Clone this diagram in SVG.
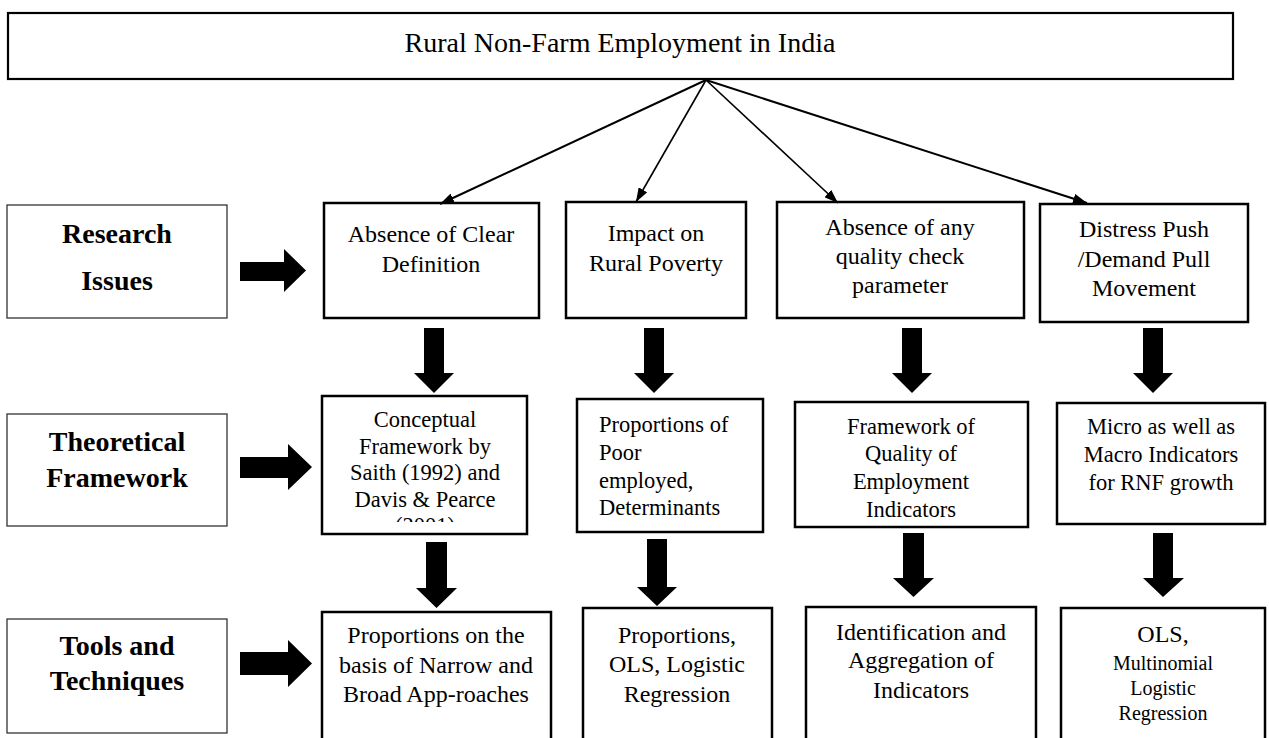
<svg xmlns="http://www.w3.org/2000/svg" width="1269" height="738" viewBox="0 0 1269 738">
  <style>
    .bg { fill: #ffffff; }
    .box { fill: #ffffff; stroke: #000000; stroke-width: 2.5; }
    .label-box { fill: #ffffff; stroke: #333333; stroke-width: 1.3; }
    .title-box { fill: #ffffff; stroke: #000000; stroke-width: 2.2; }
    .t { font-family: "Liberation Serif", "Times New Roman", serif; fill: #000000; text-anchor: middle; }
    .t24 { font-size: 24px; }
    .t22 { font-size: 22.5px; }
    .t20 { font-size: 20px; }
    .title { font-size: 28px; }
    .lbl { font-size: 28px; font-weight: bold; }
    .left { text-anchor: start; }
    .block { fill: #000000; }
    .link { stroke: #000000; stroke-width: 2; fill: none; marker-end: url(#head); }
  </style>
  <defs>
    <marker id="head" viewBox="0 0 14 10" refX="14" refY="5" markerWidth="14" markerHeight="10" markerUnits="userSpaceOnUse" orient="auto">
      <path d="M0,0 L14,5 L0,10 z" fill="#000000"/>
    </marker>
    <clipPath id="clip-b1"><rect x="323" y="397" width="204" height="125"/></clipPath>
    <clipPath id="clip-b3"><rect x="796" y="403" width="231" height="116"/></clipPath>
  </defs>

  <rect class="bg" x="0" y="0" width="1269" height="738"/>

  <!-- Heading -->
  <g id="root">
    <rect class="title-box" x="8" y="13" width="1225" height="66"/>
    <text class="t title" x="620" y="52">Rural Non-Farm Employment in India</text>
  </g>

  <!-- Row labels -->
  <g id="label-research">
    <rect class="label-box" x="7" y="205" width="220" height="113"/>
    <text class="t lbl" x="117" y="243">Research</text>
    <text class="t lbl" x="117" y="290">Issues</text>
  </g>
  <g id="label-theory">
    <rect class="label-box" x="7" y="414" width="220" height="112"/>
    <text class="t lbl" x="117" y="451">Theoretical</text>
    <text class="t lbl" x="117" y="487">Framework</text>
  </g>
  <g id="label-tools">
    <rect class="label-box" x="7" y="619" width="220" height="114"/>
    <text class="t lbl" x="117" y="655">Tools and</text>
    <text class="t lbl" x="117" y="690">Techniques</text>
  </g>

  <!-- Research issues -->
  <g id="issue-definition">
    <rect class="box" x="324" y="203" width="215" height="115"/>
    <text class="t t24" x="431" y="242">Absence of Clear</text>
    <text class="t t24" x="431" y="272">Definition</text>
  </g>
  <g id="issue-poverty">
    <rect class="box" x="566" y="202" width="180" height="116"/>
    <text class="t t24" x="656" y="241">Impact on</text>
    <text class="t t24" x="656" y="271">Rural Poverty</text>
  </g>
  <g id="issue-quality">
    <rect class="box" x="777" y="202" width="247" height="116"/>
    <text class="t t24" x="900" y="235">Absence of any</text>
    <text class="t t24" x="900" y="264">quality check</text>
    <text class="t t24" x="900" y="293">parameter</text>
  </g>
  <g id="issue-movement">
    <rect class="box" x="1040" y="204" width="208" height="118"/>
    <text class="t t24" x="1144" y="237">Distress Push</text>
    <text class="t t24" x="1144" y="267">/Demand Pull</text>
    <text class="t t24" x="1144" y="296">Movement</text>
  </g>

  <!-- Theoretical framework -->
  <g id="theory-concept">
    <rect class="box" x="322" y="396" width="205" height="138"/>
    <g clip-path="url(#clip-b1)">
      <text class="t t22" x="425" y="427">Conceptual</text>
      <text class="t t22" x="425" y="454">Framework by</text>
      <text class="t t22" x="425" y="480">Saith (1992) and</text>
      <text class="t t22" x="425" y="507">Davis &amp; Pearce</text>
      <text class="t t22" x="425" y="533">(2001)</text>
    </g>
  </g>
  <g id="theory-poor">
    <rect class="box" x="577" y="399" width="186" height="133"/>
    <text class="t t22 left" x="599" y="432">Proportions of</text>
    <text class="t t22 left" x="599" y="460">Poor</text>
    <text class="t t22 left" x="599" y="488">employed,</text>
    <text class="t t22 left" x="599" y="515">Determinants</text>
  </g>
  <g id="theory-quality">
    <rect class="box" x="795" y="402" width="233" height="125"/>
    <g clip-path="url(#clip-b3)">
      <text class="t t22" x="911" y="434">Framework of</text>
      <text class="t t22" x="911" y="461">Quality of</text>
      <text class="t t22" x="911" y="489">Employment</text>
      <text class="t t22" x="911" y="517">Indicators</text>
    </g>
  </g>
  <g id="theory-indicators">
    <rect class="box" x="1057" y="403" width="208" height="121"/>
    <text class="t t22" x="1161" y="434">Micro as well as</text>
    <text class="t t22" x="1161" y="462">Macro Indicators</text>
    <text class="t t22" x="1161" y="490">for RNF growth</text>
  </g>

  <!-- Tools and techniques -->
  <g id="tools-approaches">
    <rect class="box" x="322" y="612" width="229" height="140"/>
    <text class="t t24" x="436" y="643">Proportions on the</text>
    <text class="t t24" x="436" y="673">basis of Narrow and</text>
    <text class="t t24" x="436" y="702">Broad App-roaches</text>
  </g>
  <g id="tools-regression">
    <rect class="box" x="583" y="608" width="189" height="144"/>
    <text class="t t24" x="677" y="643">Proportions,</text>
    <text class="t t24" x="677" y="672">OLS, Logistic</text>
    <text class="t t24" x="677" y="702">Regression</text>
  </g>
  <g id="tools-aggregation">
    <rect class="box" x="806" y="607" width="230" height="145"/>
    <text class="t t24" x="921" y="640">Identification and</text>
    <text class="t t24" x="921" y="668">Aggregation of</text>
    <text class="t t24" x="921" y="698">Indicators</text>
  </g>
  <g id="tools-multinomial">
    <rect class="box" x="1061" y="608" width="204" height="144"/>
    <text class="t t24" x="1163" y="642">OLS,</text>
    <text class="t t20" x="1163" y="670">Multinomial</text>
    <text class="t t20" x="1163" y="695">Logistic</text>
    <text class="t t20" x="1163" y="720">Regression</text>
  </g>

  <!-- Connectors -->
  <g id="connectors">
    <line class="link" x1="706" y1="80" x2="440" y2="204"/>
    <line class="link" x1="706" y1="80" x2="636" y2="202" style="stroke-width:1.6"/>
    <line class="link" x1="706" y1="80" x2="838" y2="203" style="stroke-width:1.6"/>
    <line class="link" x1="706" y1="80" x2="1087" y2="203"/>

    <!-- row label arrows -->
    <polygon class="block" points="240,262 284,262 284,249 306,270.5 284,292 284,281 240,281"/>
    <polygon class="block" points="240,457 288,457 288,444 312,467 288,490 288,478 240,478"/>
    <polygon class="block" points="240,652 288,652 288,640 312,663.5 288,687 288,675 240,675"/>

    <!-- issues to framework -->
    <polygon class="block" points="424,328 444,328 444,373 454,373 434,393 414,373 424,373"/>
    <polygon class="block" points="644,328 664,328 664,373 674,373 654,393 634,373 644,373"/>
    <polygon class="block" points="902,328 922,328 922,373 932,373 912,393 892,373 902,373"/>
    <polygon class="block" points="1143,328 1163,328 1163,373 1173,373 1153,393 1133,373 1143,373"/>

    <!-- framework to tools -->
    <polygon class="block" points="426,542 447,542 447,588 457,588 436.5,608 416,588 426,588"/>
    <polygon class="block" points="647,539 667,539 667,587 677,587 657,606 637,587 647,587"/>
    <polygon class="block" points="903,533 924,533 924,578 934,578 913.5,597 893,578 903,578"/>
    <polygon class="block" points="1153,533 1173,533 1173,578 1184,578 1163,597 1143,578 1153,578"/>
  </g>
</svg>
